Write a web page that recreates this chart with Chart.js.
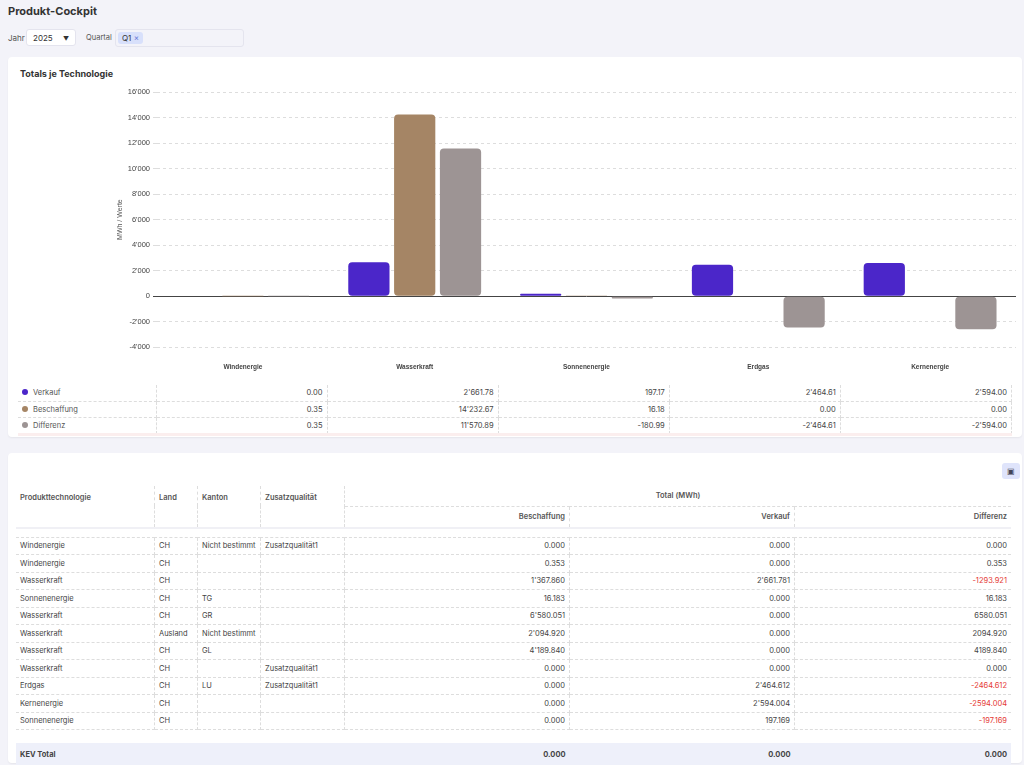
<!DOCTYPE html>
<html><head><meta charset="utf-8">
<script src="https://cdn.jsdelivr.net/npm/chart.js@4"></script>
<style>
body{margin:0;background:#f3f3f9;font-family:Inter,"Noto Sans",sans-serif;color:#333;width:1024px;height:765px;overflow:hidden;position:relative}
.abs{position:absolute}
h1{position:absolute;left:8px;top:4px;margin:0;font-size:11px;font-weight:700;color:#333}
.card{position:absolute;background:#fff;border-radius:4px;box-shadow:0 1px 2px rgba(0,0,0,.06)}
table{border-collapse:collapse;font-size:7.5px;color:#444}
td,th{border-bottom:1px dashed #ddd;padding:0 4px;white-space:nowrap}
th{color:#555}
.r{text-align:right}
.neg{color:#e53935}
</style></head><body>
<h1>Produkt-Cockpit</h1>
<div class="abs" style="left:8px;top:33px;font-size:8px;color:#555">Jahr</div>
<div class="abs" style="left:26px;top:29px;width:50px;height:17px;background:#fff;border:1px solid #e4e4ee;border-radius:3px;font-size:8px;line-height:17px;padding-left:6px;box-sizing:border-box">2025<span style="position:absolute;right:6px;font-size:6px">▼</span></div>
<div class="abs" style="left:86px;top:33px;font-size:7.5px;color:#555">Quartal</div>
<div class="abs" style="left:115px;top:29px;width:129px;height:18px;border:1px solid #e4e4ee;border-radius:3px;box-sizing:border-box"><span style="position:absolute;left:2px;top:2px;background:#d8e0fb;border-radius:3px;font-size:8px;padding:1px 4px">Q1 <span style="color:#6a7bd8">×</span></span></div>

<div class="card" style="left:8px;top:57px;width:1014px;height:380px"></div>
<div class="abs" style="left:20px;top:68px;font-size:9px;font-weight:700">Totals je Technologie</div>
<div class="abs" style="left:114px;top:83px;width:902px;height:296px"><canvas id="c"></canvas></div>
<table class="abs" id="leg" style="left:18px;top:385px;width:994px"></table>
<div class="abs" style="left:18px;top:433px;width:994px;height:3px;background:#fbeeee"></div>

<div class="card" style="left:8px;top:453px;width:1014px;height:310px"></div>
<div class="abs" style="left:1002px;top:463px;width:18px;height:16px;background:#dfe4fb;border-radius:3px;font-size:8px;text-align:center;line-height:16px;color:#445">▣</div>
<table class="abs" id="tb" style="left:16px;top:486px;width:995px"></table>

<script>
const categories=["Windenergie","Wasserkraft","Sonnenenergie","Erdgas","Kernenergie"];
const verkauf=[0.00,2661.78,197.17,2464.61,2594.00];
const beschaffung=[0.35,14232.67,16.18,0.00,0.00];
const differenz=[0.35,11570.89,-180.99,-2464.61,-2594.00];
const yTicks=[16000,14000,12000,10000,8000,6000,4000,2000,0,-2000,-4000];
const colors={v:"#4b26c9",b:"#a58565",d:"#9d9494"};
const rows=[
["Windenergie","CH","Nicht bestimmt","Zusatzqualität1",0.000,0.000,0.000],
["Windenergie","CH","","",0.353,0.000,0.353],
["Wasserkraft","CH","","",1367.860,2661.781,-1293.921],
["Sonnenenergie","CH","TG","",16.183,0.000,16.183],
["Wasserkraft","CH","GR","",6580.051,0.000,6580.051],
["Wasserkraft","Ausland","Nicht bestimmt","",2094.920,0.000,2094.920],
["Wasserkraft","CH","GL","",4189.840,0.000,4189.840],
["Wasserkraft","CH","","Zusatzqualität1",0.000,0.000,0.000],
["Erdgas","CH","LU","Zusatzqualität1",0.000,2464.612,-2464.612],
["Kernenergie","CH","","",0.000,2594.004,-2594.004],
["Sonnenenergie","CH","","",0.000,197.169,-197.169]];
const fmt=(v,d,sep=true)=>{let s=Math.abs(v).toFixed(d).split('.');if(sep)s[0]=s[0].replace(/\B(?=(\d{3})+(?!\d))/g,"'");return (v<0?'-':'')+s.join('.');};
const ser=[["Verkauf",verkauf,colors.v],["Beschaffung",beschaffung,colors.b],["Differenz",differenz,colors.d]];
let lh="";
ser.forEach(([n,a,c])=>{lh+=`<tr style="height:16px"><td style="width:130px;color:#555;border-right:1px dashed #ddd"><span style="display:inline-block;width:6px;height:6px;border-radius:50%;background:${c};margin-right:5px"></span>${n}</td>`+a.map(v=>`<td class="r" style="border-right:1px dashed #ddd;width:163px">${fmt(v,2)}</td>`).join("")+"</tr>";});
document.getElementById("leg").innerHTML=lh;
let th=`<tr style="height:20px"><th rowspan="2" style="text-align:left;font-weight:600;vertical-align:top;padding-top:7px;width:130px;border-right:1px dashed #ddd;border-bottom:1px dashed #ddd">Produkttechnologie</th><th rowspan="2" style="text-align:left;font-weight:600;vertical-align:top;padding-top:7px;width:34px;border-right:1px dashed #ddd">Land</th><th rowspan="2" style="text-align:left;font-weight:600;vertical-align:top;padding-top:7px;width:54px;border-right:1px dashed #ddd">Kanton</th><th rowspan="2" style="text-align:left;font-weight:600;vertical-align:top;padding-top:7px;width:75px;border-right:1px dashed #ddd">Zusatzqualität</th><th colspan="3" style="font-weight:600">Total (MWh)</th></tr>
<tr style="height:22px"><th class="r" style="font-weight:600;width:216px;border-right:1px dashed #ddd">Beschaffung</th><th class="r" style="font-weight:600;width:216px;border-right:1px dashed #ddd">Verkauf</th><th class="r" style="font-weight:600">Differenz</th></tr>
<tr style="height:9px"><td colspan="7" style="border-top:2px solid #f0f0f5"></td></tr>`;
rows.forEach(r=>{th+=`<tr style="height:17.5px">`+[0,1,2,3].map(i=>`<td style="border-right:1px dashed #ddd">${r[i]}</td>`).join("")+`<td class="r" style="border-right:1px dashed #ddd">${fmt(r[4],3)}</td><td class="r" style="border-right:1px dashed #ddd">${fmt(r[5],3)}</td><td class="r ${r[6]<0?'neg':''}">${fmt(r[6],3,false)}</td></tr>`;});
th+=`<tr style="height:13px"><td colspan="7" style="border:none"></td></tr><tr style="height:25px;background:#eef0fa;font-weight:700"><td colspan="4">KEV Total</td><td class="r">0.000</td><td class="r">0.000</td><td class="r">0.000</td></tr>`;
document.getElementById("tb").innerHTML=th;

new Chart(document.getElementById("c"),{type:"bar",
data:{labels:categories,datasets:ser.map(([n,a,c])=>({label:n,data:a,backgroundColor:c,borderRadius:4,borderSkipped:false}))},
options:{responsive:true,maintainAspectRatio:false,animation:false,
layout:{padding:{top:9,right:0}},
plugins:{legend:{display:false},tooltip:{enabled:false}},
datasets:{bar:{categoryPercentage:0.8,barPercentage:0.9}},
scales:{
x:{grid:{display:false},border:{display:false},ticks:{font:{size:6.5,weight:"bold"},color:"#444",padding:8}},
y:{min:-4000,max:16000,afterFit:s=>{s.width=43},afterBuildTicks:s=>{s.ticks=yTicks.map(v=>({value:v}))},
title:{display:true,text:"MWh / Werte",font:{size:7},color:"#555",padding:2},
border:{display:false,dash:c=>c.tick&&c.tick.value===0?[]:[3,3]},
grid:{color:c=>c.tick&&c.tick.value===0?"#444":"#ddd",tickLength:4,drawTicks:true},
ticks:{font:{size:7.5},color:"#444",callback:v=>fmt(v,0)}}}}});
</script></body></html>
